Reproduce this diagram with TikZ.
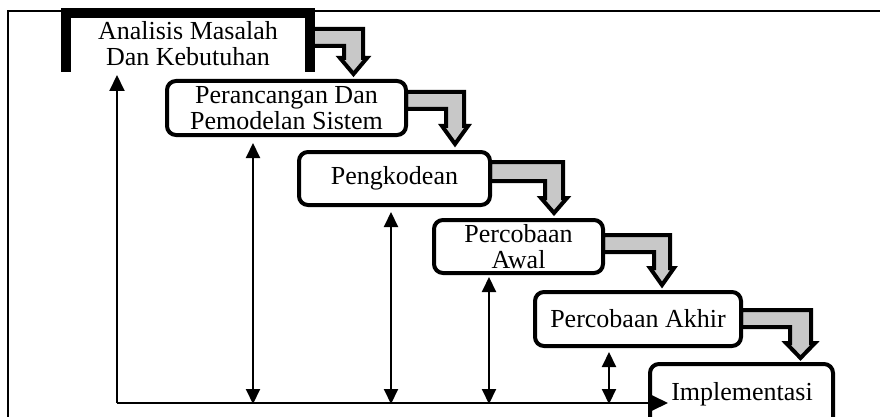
\documentclass[tikz,border=0pt]{standalone}
\usepackage{fontspec}
\setmainfont{Liberation Serif}
\usetikzlibrary{arrows.meta}
\definecolor{flowgrey}{RGB}{200,200,200}
\newcommand{\flowarrow}[7]{%
  \draw[flow] (#1,#2) -- (#5,#2) -- (#5,#6) -- ({#5+4},#6) -- ({(#4+#5)/2},#7)
    -- ({#4-4},#6) -- (#4,#6) -- (#4,#3) -- (#1,#3) -- cycle;}
\begin{document}
\begin{tikzpicture}[x=1pt,y=-1pt,
  phase/.style={draw, line width=4pt, rounded corners=9pt, fill=white, inner sep=0pt, align=center, font=\fontsize{26}{26}\selectfont},
  lbl/.style={inner sep=0pt, align=center, font=\fontsize{26}{26}\selectfont},
  flow/.style={draw, line width=4pt, fill=flowgrey, line join=miter},
  fb/.style={line width=2pt, -{Triangle[length=16pt,width=15pt]}},
  fbb/.style={line width=2pt, {Triangle[length=15pt,width=14pt]}-{Triangle[length=15pt,width=14pt]}},
  frameline/.style={line width=2.5pt},
  heavy/.style={line width=10pt, line join=miter}
]
\clip (0,0) rectangle (880,417);
% frame
\draw[frameline] (8,425) -- (8,11) -- (885,11);
% grey flow arrows
\flowarrow{310}{29}{46}{344}{363}{58}{74}
\flowarrow{406}{92}{109}{446}{464}{126}{144}
\flowarrow{490}{162}{181}{545}{563}{198}{213}
\flowarrow{603}{235}{252}{654}{670}{268}{285}
\flowarrow{741}{310}{327}{790}{811}{343}{358}
% phases
\draw[heavy] (66,72) -- (66,13) -- (310,13) -- (310,72);
\node[lbl] (b1) at (188,43.5) {Analisis Masalah\\Dan Kebutuhan};
\node[phase, minimum width=239pt, minimum height=54pt] (b2) at (286.5,108) {Perancangan Dan\\Pemodelan Sistem};
\node[phase, minimum width=191pt, minimum height=53pt] (b3) at (394.5,178.5) {Pengkodean};
\node[phase, minimum width=169pt, minimum height=53pt] (b4) at (518.5,246.5) {Percobaan\\Awal};
\node[phase, minimum width=206pt, minimum height=54pt] (b5) at (638,319) {Percobaan Akhir};
\node[phase, minimum width=183pt, minimum height=72pt] (b6) at (741.5,400) {};
\node[lbl] (t6) at (742,394) {Implementasi};
% feedback arrows
\coordinate (base) at (117,403);
\coordinate (up1) at (117,75);
\coordinate (into6) at (668,403);
\coordinate (d2t) at (253,143);
\coordinate (d2b) at (253,404);
\coordinate (d3t) at (391,212);
\coordinate (d3b) at (391,404);
\coordinate (d4t) at (489,277);
\coordinate (d4b) at (489,404);
\coordinate (d5t) at (609,352);
\coordinate (d5b) at (609,404);
\draw[fb] (base) -- (up1);
\draw[fb] (base) -- (into6);
\draw[fbb] (d2t) -- (d2b);
\draw[fbb] (d3t) -- (d3b);
\draw[fbb] (d4t) -- (d4b);
\draw[fbb] (d5t) -- (d5b);
\end{tikzpicture}
\end{document}
